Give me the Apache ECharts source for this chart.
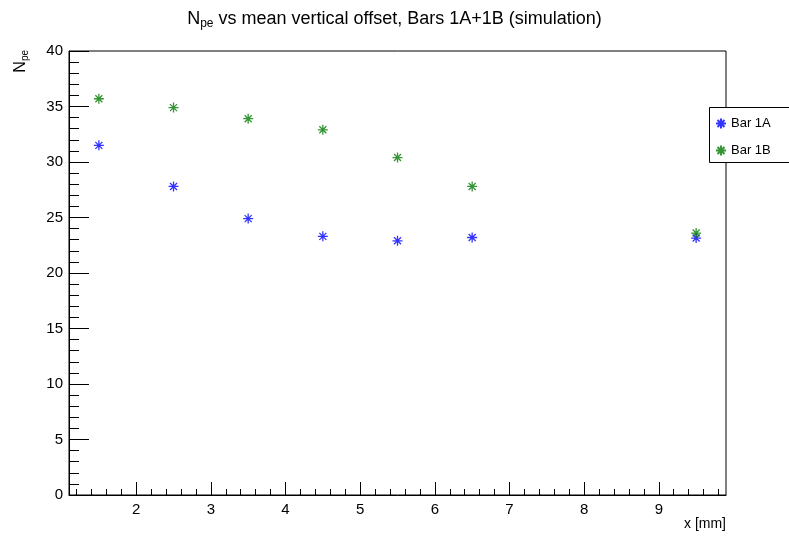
<!DOCTYPE html>
<html>
<head>
<meta charset="utf-8">
<script src="https://cdn.jsdelivr.net/npm/echarts@6/dist/echarts.min.js"></script>
<style>
  html, body { margin: 0; padding: 0; background: #fff; }
  #chart { width: 789px; height: 538px; }
</style>
</head>
<body>
<div id="chart"></div>
<script>
// data
var xValues = [1.5, 2.5, 3.5, 4.5, 5.5, 6.5, 9.5];
var bar1A = [31.5, 27.8, 24.9, 23.3, 22.9, 23.2, 23.15];
var bar1B = [35.7, 34.9, 33.9, 32.9, 30.4, 27.8, 23.6];
var xTicks = [2, 3, 4, 5, 6, 7, 8, 9];
var seriesNames = ["Bar 1A", "Bar 1B"];

var xMinor = [];
for (var v = 1.2; v < 9.9; v += 0.2) {
  var r = Math.round(v * 10) / 10;
  if (xTicks.indexOf(r) < 0) xMinor.push(r);
}

function pairs(ys) {
  return xValues.map(function (x, i) { return [x, ys[i]]; });
}

var star = "path://M0,5L10,5M5,0L5,10M1.5,1.5L8.5,8.5M1.5,8.5L8.5,1.5";
var font = "Liberation Sans";

var chart = echarts.init(document.getElementById("chart"));
var option = {
  animation: false,
  textStyle: { fontFamily: font },
  title: {
    left: "center",
    top: 3,
    text: "{n|N}{s|pe}{n| vs mean vertical offset, Bars 1A+1B (simulation)}",
    textStyle: {
      fontWeight: "normal",
      rich: {
        n: { fontSize: 18, color: "#000", fontFamily: font, fontWeight: "normal", lineHeight: 22 },
        s: { fontSize: 12, color: "#000", fontFamily: font, fontWeight: "normal", lineHeight: 22, verticalAlign: "bottom", padding: [8, 0, 0, 0] }
      }
    }
  },
  grid: {
    left: 69,
    right: 63,
    top: 51,
    bottom: 43,
    show: true,
    borderColor: "#000",
    borderWidth: 1,
    outerBoundsMode: "none"
  },
  legend: {
    orient: "vertical",
    left: 710,
    top: 112,
    z: 10,
    itemWidth: 10,
    itemHeight: 10,
    itemGap: 14,
    data: seriesNames,
    textStyle: { fontSize: 13, color: "#000", fontFamily: font }
  },
  graphic: [
    {
      type: "rect",
      z: 5,
      shape: { x: 709.5, y: 107.5, width: 100, height: 55 },
      style: { fill: "#fff", stroke: "#000", lineWidth: 1 }
    },
    {
      type: "text",
      x: 30,
      y: 50,
      rotation: Math.PI / 2,
      style: {
        text: "{n|N}{s|pe}",
        align: "right",
        verticalAlign: "bottom",
        rich: {
          n: { fontSize: 16, fill: "#000", fontFamily: font, lineHeight: 18 },
          s: { fontSize: 10, fill: "#000", fontFamily: font, lineHeight: 18, verticalAlign: "bottom", padding: [7, 0, 0, 0] }
        }
      }
    }
  ],
  xAxis: [
    {
      type: "value",
      min: 1.1,
      max: 9.9,
      position: "bottom",
      name: "x [mm]",
      nameLocation: "end",
      nameGap: 0,
      nameTextStyle: { align: "right", verticalAlign: "top", padding: [22, 0, 0, 0], fontSize: 14, color: "#000" },
      axisLine: { show: true, lineStyle: { color: "#000" } },
      axisTick: { show: true, inside: true, length: 13, customValues: xTicks, lineStyle: { color: "#000" } },
      axisLabel: { customValues: xTicks, fontSize: 15, color: "#000", margin: 7 },
      splitLine: { show: false }
    },
    {
      type: "value",
      min: 1.1,
      max: 9.9,
      position: "bottom",
      offset: 0,
      axisLine: { show: false },
      axisTick: { show: true, inside: true, length: 6, customValues: xMinor, lineStyle: { color: "#000" } },
      axisLabel: { show: false },
      splitLine: { show: false }
    }
  ],
  yAxis: {
    type: "value",
    min: 0,
    max: 40,
    interval: 5,
    axisLine: { show: true, lineStyle: { color: "#000" } },
    axisTick: { show: true, inside: true, length: 20, lineStyle: { color: "#000" } },
    minorTick: { show: true, splitNumber: 5, length: 10, lineStyle: { color: "#000" } },
    axisLabel: { fontSize: 15, color: "#000", margin: 6 },
    splitLine: { show: false }
  },
  series: [
    {
      name: seriesNames[0],
      type: "scatter",
      symbol: star,
      symbolSize: 10,
      data: pairs(bar1A),
      itemStyle: { color: "#0000ff", borderColor: "#0000ff", borderWidth: 1.3 }
    },
    {
      name: seriesNames[1],
      type: "scatter",
      symbol: star,
      symbolSize: 10,
      data: pairs(bar1B),
      itemStyle: { color: "#007a00", borderColor: "#007a00", borderWidth: 1.3 }
    }
  ]
};
chart.setOption(option);
window.addEventListener("resize", chart.resize);
</script>
</body>
</html>
